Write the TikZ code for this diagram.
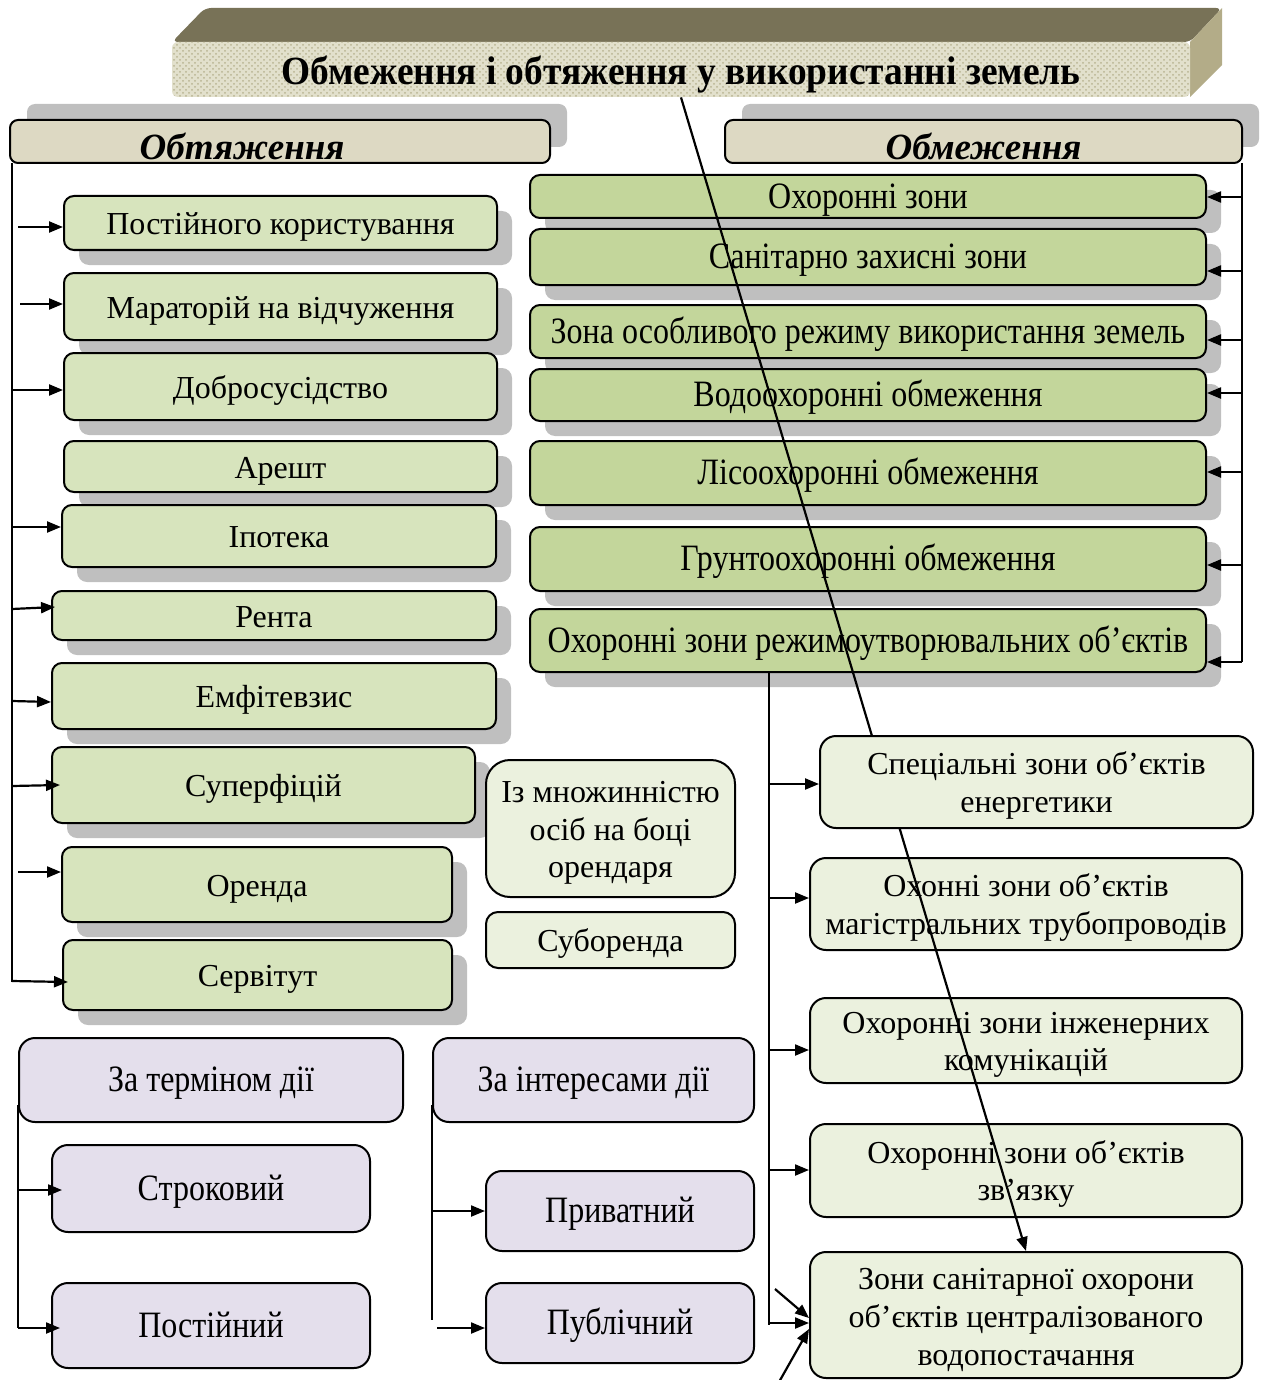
\documentclass[tikz,border=0pt]{standalone}
\usepackage{fontspec}
\setmainfont{Liberation Serif}
\newfontfamily\narrowfont[FakeStretch=0.86]{Liberation Serif}
\usetikzlibrary{shadows,fit,arrows.meta,patterns}
\definecolor{shgray}{HTML}{BFBFBF}
\definecolor{hdrfill}{HTML}{DDD9C3}
\definecolor{lgreen}{HTML}{D7E4BD}
\definecolor{mgreen}{HTML}{C3D69B}
\definecolor{pale}{HTML}{EBF1DE}
\definecolor{lilac}{HTML}{E4DFEC}
\definecolor{ttop}{HTML}{787257}
\definecolor{tside}{HTML}{B3AC88}
\definecolor{tfront}{HTML}{E2E0CC}
\definecolor{tdots}{HTML}{B8B492}
% box from pixel corners: [text drop], box style, text style, name, x1, y1, x2, y2, text
\newcommand{\bx}[9][2pt]{%
  \pgfmathsetmacro\bxcx{(#5+#7)/2}%
  \pgfmathsetmacro\bxcy{(#6+#8)/2}%
  \pgfmathsetmacro\bxw{(#7-#5)*0.5}%
  \pgfmathsetmacro\bxh{(#8-#6)*0.5}%
  \node[#2, minimum width=\bxw pt, minimum height=\bxh pt] (#4) at (\bxcx,\bxcy) {};
  \node[#3, inner sep=0pt] (#4t) at ([yshift=-#1]#4.center)
    {\begin{tabular}{@{}c@{}}#9\end{tabular}};}
\begin{document}
\begin{tikzpicture}[x=0.5pt,y=-0.5pt,
  base/.style={draw=black, line width=1pt, inner sep=0pt},
  sh/.style={drop shadow={shadow xshift=7.5pt, shadow yshift=-7.5pt, fill=shgray, opacity=1}},
  lbox/.style={base, sh, fill=lgreen, rounded corners=5pt},
  rbox/.style={base, sh, fill=mgreen, rounded corners=5pt},
  pbox/.style={base, fill=pale, rounded corners=8pt},
  vbox/.style={base, fill=lilac, rounded corners=8pt},
  hbox/.style={base, fill=hdrfill, rounded corners=4pt,
     drop shadow={shadow xshift=8.5pt, shadow yshift=8pt, fill=shgray, opacity=1}},
  lf/.style={font=\fontsize{16}{19}\selectfont},
  rf/.style={font=\narrowfont\fontsize{18.6}{19}\selectfont},
  pf/.style={font=\fontsize{16}{18.8}\selectfont},
  vf/.style={font=\narrowfont\fontsize{18.6}{19}\selectfont},
  hf/.style={font=\bfseries\itshape\fontsize{18.5}{21}\selectfont},
  link/.style={line width=0.9pt},
  arr/.style={line width=1.1pt, -{Triangle[length=7pt,width=5.5pt]}}
]
\useasboundingbox (0,0) rectangle (1262,1380);

% ---- title banner ----
\fill[ttop, rounded corners=3pt] (172,42) -- (205,8) -- (1222,8) -- (1190,42) -- cycle;
\fill[tside] (1190,42) -- (1222,8) -- (1222,65) -- (1190,97) -- cycle;
\node[inner sep=0pt, preaction={fill=tfront}, pattern=crosshatch dots, pattern color=tdots,
      rounded corners=3pt, fit={(172,42)(1190,97)}] (title) {};
\node[font=\bfseries\fontsize{20}{22}\selectfont, inner sep=0pt,
      xscale=0.935] (titletext) at (681,75) {Обмеження і обтяження у використанні земель};

% ---- headers ----
\bx[5pt]{hbox}{hf}{hL}{10}{120}{550}{163}{Обтяження\hspace*{38pt}}
\bx[5pt]{hbox}{hf}{hR}{725}{120}{1242}{163}{Обмеження}

% ---- left column ----
\bx{lbox}{lf}{t1}{64}{196}{497}{250}{Постійного користування}
\bx{lbox}{lf}{t2}{64}{273}{497}{340}{Мараторій на відчуження}
\bx{lbox}{lf}{t3}{64}{353}{497}{420}{Добросусідство}
\bx{lbox}{lf}{t4}{64}{441}{497}{492}{Арешт}
\bx{lbox}{lf}{t5}{62}{505}{496}{567}{Іпотека}
\bx{lbox}{lf}{t6}{52}{591}{496}{640}{Рента}
\bx{lbox}{lf}{t7}{52}{663}{496}{729}{Емфітевзис}
\bx{lbox}{lf}{t8}{52}{747}{475}{823}{Суперфіцій}
\bx{lbox}{lf}{t9}{62}{847}{452}{922}{Оренда}
\bx{lbox}{lf}{t10}{63}{940}{452}{1010}{Сервітут}

\coordinate (lvtop) at (12,163);
\coordinate (lvbot) at (12,982);
\draw[link] (lvtop) -- (lvbot);
\draw[arr] (18,227) -- (t1.west |- 0,227);
\draw[arr] (20,304) -- (t2.west |- 0,304);
\draw[arr] (lvtop |- 0,390) -- (t3.west |- 0,390);
\draw[arr] (lvtop |- 0,527) -- (t5.west |- 0,527);
\draw[arr] (lvtop |- 0,609) -- (55,607);
\draw[arr] (lvtop |- 0,701) -- (t7.west |- 0,702);
\draw[arr] (lvtop |- 0,786) -- (60,785);
\draw[arr] (18,872) -- (t9.west |- 0,872);
\draw[arr] (lvtop |- 0,981) -- (68,982);

% ---- middle ----
\bx{pbox, rounded corners=12pt}{pf}{m1}{486}{760}{735}{897}{Із множинністю\\осіб на боці\\орендаря}
\bx{pbox, rounded corners=6pt}{pf}{m2}{486}{912}{735}{968}{Суборенда}

% ---- right column ----
\bx{rbox}{rf}{o1}{530}{175}{1206}{218}{Охоронні зони}
\bx{rbox}{rf}{o2}{530}{229}{1206}{285}{Санітарно захисні зони}
\bx{rbox}{rf}{o3}{530}{305}{1206}{358}{Зона особливого режиму використання земель}
\bx{rbox}{rf}{o4}{530}{369}{1206}{421}{Водоохоронні обмеження}
\bx{rbox}{rf}{o5}{530}{441}{1206}{505}{Лісоохоронні обмеження}
\bx{rbox}{rf}{o6}{530}{527}{1206}{591}{Грунтоохоронні обмеження}
\bx{rbox}{rf}{o7}{530}{609}{1206}{672}{Охоронні зони режимоутворювальних об’єктів}

\coordinate (rvtop) at (1242,163);
\coordinate (rvbot) at (1242,662);
\draw[link] (rvtop) -- (rvbot);
\draw[arr] (rvtop |- 0,197) -- (o1.east |- 0,197);
\draw[arr] (rvtop |- 0,271) -- (o2.east |- 0,271);
\draw[arr] (rvtop |- 0,340) -- (o3.east |- 0,340);
\draw[arr] (rvtop |- 0,393) -- (o4.east |- 0,393);
\draw[arr] (rvtop |- 0,472) -- (o5.east |- 0,472);
\draw[arr] (rvtop |- 0,565) -- (o6.east |- 0,565);
\draw[arr] (rvbot) -- (o7.east |- rvbot);

% ---- lower right ----
\bx{pbox}{pf}{s2}{810}{858}{1242}{950}{Охонні зони об’єктів\\магістральних трубопроводів}
\bx{pbox}{pf}{s3}{810}{998}{1242}{1083}{Охоронні зони інженерних\\комунікацій}
\bx{pbox}{pf}{s4}{810}{1124}{1242}{1217}{Охоронні зони об’єктів\\зв’язку}
\bx[2.5pt]{pbox}{pf}{s5}{810}{1252}{1242}{1378}{Зони санітарної охорони\\об’єктів централізованого\\водопостачання}

\draw[arr] (title.south) -- (s5.north);

\bx{pbox}{pf}{s1}{820}{736}{1253}{828}{Спеціальні зони об’єктів\\енергетики}

\coordinate (dvtop) at (769,672);
\coordinate (dvbot) at (769,1325);
\draw[link] (dvtop) -- (dvbot);
\draw[arr] (dvtop |- 0,784) -- (s1.west |- 0,784);
\draw[arr] (dvtop |- 0,898) -- (s2.west |- 0,898);
\draw[arr] (dvtop |- 0,1050) -- (s3.west |- 0,1050);
\draw[arr] (dvtop |- 0,1170) -- (s4.west |- 0,1170);
\draw[arr] (dvbot |- 0,1323) -- (s5.west |- 0,1323);
\coordinate (e1) at (775,1289);
\coordinate (e2) at (779,1382);
\draw[arr] (e1) -- (s5.west |- 0,1318);
\draw[arr] (e2) -- (s5.west |- 0,1329);

% ---- bottom-left classifications ----
\bx{vbox}{vf}{p1}{19}{1038}{403}{1122}{За терміном дії}
\bx{vbox}{vf}{p2}{433}{1038}{754}{1122}{За інтересами дії}
\bx{vbox}{vf}{p3}{52}{1145}{370}{1232}{Строковий}
\bx{vbox}{vf}{p4}{52}{1283}{370}{1368}{Постійний}
\bx{vbox}{vf}{p5}{486}{1171}{754}{1251}{Приватний}
\bx{vbox}{vf}{p6}{486}{1283}{754}{1363}{Публічний}

\draw[link] (p1.west |- 0,1105) -- (p1.west |- 0,1328);
\draw[arr] (p1.west |- 0,1190) -- (62,1190);
\draw[arr] (p1.west |- 0,1328) -- (60,1328);
\draw[link] (p2.west |- 0,1105) -- (p2.west |- 0,1320);
\draw[arr] (p2.west |- 0,1211) -- (p5.west |- 0,1211);
\draw[arr] (437,1328) -- (p6.west |- 0,1328);
\end{tikzpicture}
\end{document}
